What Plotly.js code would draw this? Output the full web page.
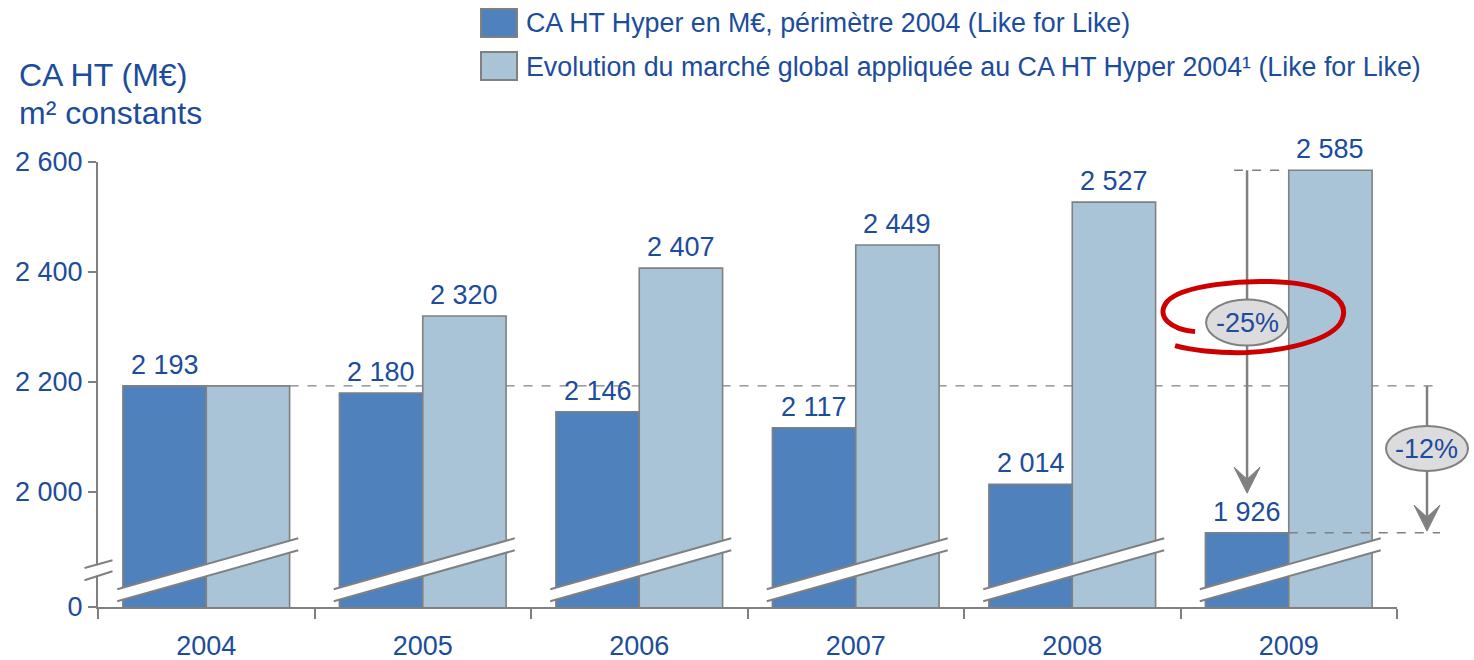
<!DOCTYPE html>
<html>
<head>
<meta charset="utf-8">
<script src="https://cdn.plot.ly/plotly-3.0.1.min.js"></script>
<style>
  html, body { margin: 0; padding: 0; background: #ffffff; }
  #chart { width: 1474px; height: 660px; }
</style>
</head>
<body>
<div id="chart"></div>
<script>
// ---------------- data ----------------
const years = ['2004', '2005', '2006', '2007', '2008', '2009'];
const caHyper = [2193, 2180, 2146, 2117, 2014, 1926];          // CA HT Hyper, périmètre 2004
const marcheGlobal = [2193, 2320, 2407, 2449, 2527, 2585];     // évolution du marché global appliquée
const yBreak = 1791;                                            // value drawn at the broken "0" position
const yTickVals = [yBreak, 2000, 2200, 2400, 2600];
const yTickText = ['0', '2 000', '2 200', '2 400', '2 600'];
const legendNames = [
  'CA HT Hyper en M€, périmètre 2004 (Like for Like)',
  'Evolution du marché global appliquée au CA HT Hyper 2004¹ (Like for Like)'
];
const pctLabels = ['-25%', '-12%'];

// ---------------- styling ----------------
const FONT = 'Liberation Sans, Arial, Helvetica, sans-serif';
const BLUE_TXT = '#1C4C9C';
const DARK = '#4F81BD';
const LIGHT = '#A8C4D6';
const GRAY = '#808080';
const W = 1474, H = 660;
const M = { l: 98, r: 77, t: 162, b: 53 };
const PW = W - M.l - M.r, PH = H - M.t - M.b;
const px2paperX = px => (px - M.l) / PW;
const py2paperY = py => (H - M.b - py) / PH;

const bargap = 0.23;
const barW = (1 - bargap) / 2;
const darkOff = -barW / 2;
const lightOff = barW / 2;

const fmt = v => String(v).replace(/\B(?=(\d{3})+(?!\d))/g, ' ');

const n = years.length;
const last = n - 1;

const traces = [
  {
    type: 'bar', x: years, y: caHyper, name: legendNames[0],
    marker: { color: DARK, line: { color: GRAY, width: 1.6 } },
    hoverinfo: 'skip'
  },
  {
    type: 'bar', x: years, y: marcheGlobal, name: legendNames[1],
    marker: { color: LIGHT, line: { color: GRAY, width: 1.6 } },
    hoverinfo: 'skip'
  }
];

const shapes = [];
const dashLine = { color: GRAY, width: 1.3, dash: 'dash' };

// dashed reference lines (behind bars)
shapes.push({ type: 'line', layer: 'below', xref: 'paper', yref: 'y',
  x0: px2paperX(M.l + (0.5 + barW) * PW / n), x1: px2paperX(1437), y0: caHyper[0], y1: caHyper[0], line: dashLine });
shapes.push({ type: 'line', layer: 'below', xref: 'x', yref: 'y',
  x0: last + darkOff - 0.06, x1: last, y0: marcheGlobal[last], y1: marcheGlobal[last], line: dashLine });

// axis break bands on each bar pair
years.forEach((yr, i) => {
  const base = { xref: 'x', yref: 'y', xsizemode: 'pixel', ysizemode: 'pixel', xanchor: i, yanchor: yBreak };
  shapes.push(Object.assign({}, base, { type: 'path', path: 'M -89 5.7 L 92 56.7 L 92 68.7 L -89 17.7 Z',
    fillcolor: '#ffffff', line: { width: 0 } }));
  shapes.push(Object.assign({}, base, { type: 'path', path: 'M -89 17.7 L 92 68.7',
    line: { color: GRAY, width: 2 } }));
  shapes.push(Object.assign({}, base, { type: 'path', path: 'M -89 5.7 L 92 56.7',
    line: { color: GRAY, width: 2 } }));
});

// axis break on the y axis
const axBase = { xref: 'paper', yref: 'y', xsizemode: 'pixel', ysizemode: 'pixel', xanchor: 0, yanchor: yBreak };
shapes.push(Object.assign({}, axBase, { type: 'path', path: 'M -6 30 L 6 33.5 L 6 43.5 L -6 40.5 Z',
  fillcolor: '#ffffff', line: { width: 0 } }));
shapes.push(Object.assign({}, axBase, { type: 'path', path: 'M -13.5 39 L 14.5 46.7', line: { color: GRAY, width: 2 } }));
shapes.push(Object.assign({}, axBase, { type: 'path', path: 'M -13.5 26.7 L 14.5 35.7', line: { color: GRAY, width: 2 } }));

// dashed line at 2009 CA level (over the light bar)
shapes.push({ type: 'line', xref: 'paper', yref: 'y',
  x0: px2paperX(M.l + (last + 0.5) * PW / n), x1: px2paperX(1440),
  y0: caHyper[last], y1: caHyper[last], line: dashLine });

// -25% arrow
const arrowX = last + darkOff;
const tip25 = caHyper[last] + 72;
const ell25Y = 2308;
shapes.push({ type: 'line', xref: 'x', yref: 'y', x0: arrowX, x1: arrowX,
  y0: marcheGlobal[last], y1: tip25 + 20, line: { color: GRAY, width: 2.5 } });
shapes.push({ type: 'path', xref: 'x', yref: 'y', xsizemode: 'pixel', ysizemode: 'pixel',
  xanchor: arrowX, yanchor: tip25, path: 'M 0 0 L -13 26 L 0 14 L 13 26 Z',
  fillcolor: GRAY, line: { color: GRAY, width: 1 } });
shapes.push({ type: 'circle', xref: 'x', yref: 'y', xsizemode: 'pixel', ysizemode: 'pixel',
  xanchor: arrowX, yanchor: ell25Y, x0: -41, x1: 41, y0: -23, y1: 23,
  fillcolor: '#DCDCDE', line: { color: GRAY, width: 2 } });

// -12% arrow (right of the plot)
const arrow12X = px2paperX(1427);
const ell12Y = 2079;
shapes.push({ type: 'line', xref: 'paper', yref: 'y', x0: arrow12X, x1: arrow12X,
  y0: caHyper[0], y1: caHyper[last] + 20, line: { color: GRAY, width: 2.5 } });
shapes.push({ type: 'path', xref: 'paper', yref: 'y', xsizemode: 'pixel', ysizemode: 'pixel',
  xanchor: arrow12X, yanchor: caHyper[last] + 3, path: 'M 0 0 L -13 26 L 0 14 L 13 26 Z',
  fillcolor: GRAY, line: { color: GRAY, width: 1 } });
shapes.push({ type: 'circle', xref: 'paper', yref: 'y', xsizemode: 'pixel', ysizemode: 'pixel',
  xanchor: arrow12X, yanchor: ell12Y, x0: -41, x1: 41, y0: -22.5, y1: 22.5,
  fillcolor: '#DCDCDE', line: { color: GRAY, width: 2 } });

// red hand-drawn loop around -25%
shapes.push({ type: 'path', xref: 'x', yref: 'y', xsizemode: 'pixel', ysizemode: 'pixel',
  xanchor: arrowX, yanchor: ell25Y,
  path: 'M -52 -9 C -76 -7, -92 6, -80 21 C -66 37, -5 44, 42 40 C 82 36, 100 22, 96 6 C 92 -14, 50 -27, 0 -30 C -30 -31, -58 -27, -72 -23',
  line: { color: '#CC0000', width: 5 } });

// legend squares
const sq = (y0, y1, col) => ({ type: 'rect', xref: 'paper', yref: 'paper',
  x0: px2paperX(481), x1: px2paperX(517), y0: py2paperY(y1), y1: py2paperY(y0),
  fillcolor: col, line: { color: GRAY, width: 2 } });
shapes.push(sq(9, 37, DARK));
shapes.push(sq(52, 80, LIGHT));

const labelFont = { family: FONT, size: 27, color: BLUE_TXT };
const annotations = [
  { xref: 'paper', yref: 'paper', x: px2paperX(17), y: py2paperY(75), xanchor: 'left', yanchor: 'middle',
    text: 'CA HT (M€)', showarrow: false, font: { family: FONT, size: 32, color: BLUE_TXT } },
  { xref: 'paper', yref: 'paper', x: px2paperX(17), y: py2paperY(113), xanchor: 'left', yanchor: 'middle',
    text: 'm² constants', showarrow: false, font: { family: FONT, size: 32, color: BLUE_TXT } },
  { xref: 'paper', yref: 'paper', x: px2paperX(524), y: py2paperY(23), xanchor: 'left', yanchor: 'middle',
    text: legendNames[0], showarrow: false, font: { family: FONT, size: 26.8, color: BLUE_TXT } },
  { xref: 'paper', yref: 'paper', x: px2paperX(524), y: py2paperY(67), xanchor: 'left', yanchor: 'middle',
    text: legendNames[1], showarrow: false, font: { family: FONT, size: 26.8, color: BLUE_TXT } },
  { xref: 'x', yref: 'y', x: arrowX, y: ell25Y, text: pctLabels[0], showarrow: false,
    xanchor: 'center', yanchor: 'middle', font: labelFont },
  { xref: 'paper', yref: 'y', x: arrow12X, y: ell12Y, text: pctLabels[1], showarrow: false,
    xanchor: 'center', yanchor: 'middle', font: labelFont }
];

// value labels above bars
years.forEach((yr, i) => {
  annotations.push({ xref: 'x', yref: 'y', x: i + darkOff, y: caHyper[i], yshift: 21,
    xanchor: 'center', yanchor: 'middle', text: fmt(caHyper[i]), showarrow: false, font: labelFont });
  if (marcheGlobal[i] !== caHyper[i]) {
    annotations.push({ xref: 'x', yref: 'y', x: i + lightOff, y: marcheGlobal[i], yshift: 21,
      xanchor: 'center', yanchor: 'middle', text: fmt(marcheGlobal[i]), showarrow: false, font: labelFont });
  }
});

const layout = {
  width: W, height: H,
  margin: M,
  paper_bgcolor: '#ffffff', plot_bgcolor: '#ffffff',
  showlegend: false,
  barmode: 'group', bargap: bargap, bargroupgap: 0,
  font: { family: FONT, color: BLUE_TXT },
  xaxis: {
    type: 'category', range: [-0.5, n - 0.5], fixedrange: true,
    showline: true, linecolor: GRAY, linewidth: 2,
    ticks: 'outside', tickson: 'boundaries', ticklen: 10, tickwidth: 2, tickcolor: GRAY,
    ticklabelstandoff: 14,
    tickfont: { family: FONT, size: 27, color: BLUE_TXT },
    showgrid: false, zeroline: false
  },
  yaxis: {
    range: [yBreak, 2600], fixedrange: true,
    tickmode: 'array', tickvals: yTickVals, ticktext: yTickText,
    showline: true, linecolor: GRAY, linewidth: 2,
    ticks: 'outside', ticklen: 8, tickwidth: 2, tickcolor: GRAY,
    tickfont: { family: FONT, size: 27, color: BLUE_TXT },
    showgrid: false, zeroline: false
  },
  shapes: shapes,
  annotations: annotations
};

Plotly.newPlot('chart', traces, layout, { displayModeBar: false, staticPlot: true });
</script>
</body>
</html>
